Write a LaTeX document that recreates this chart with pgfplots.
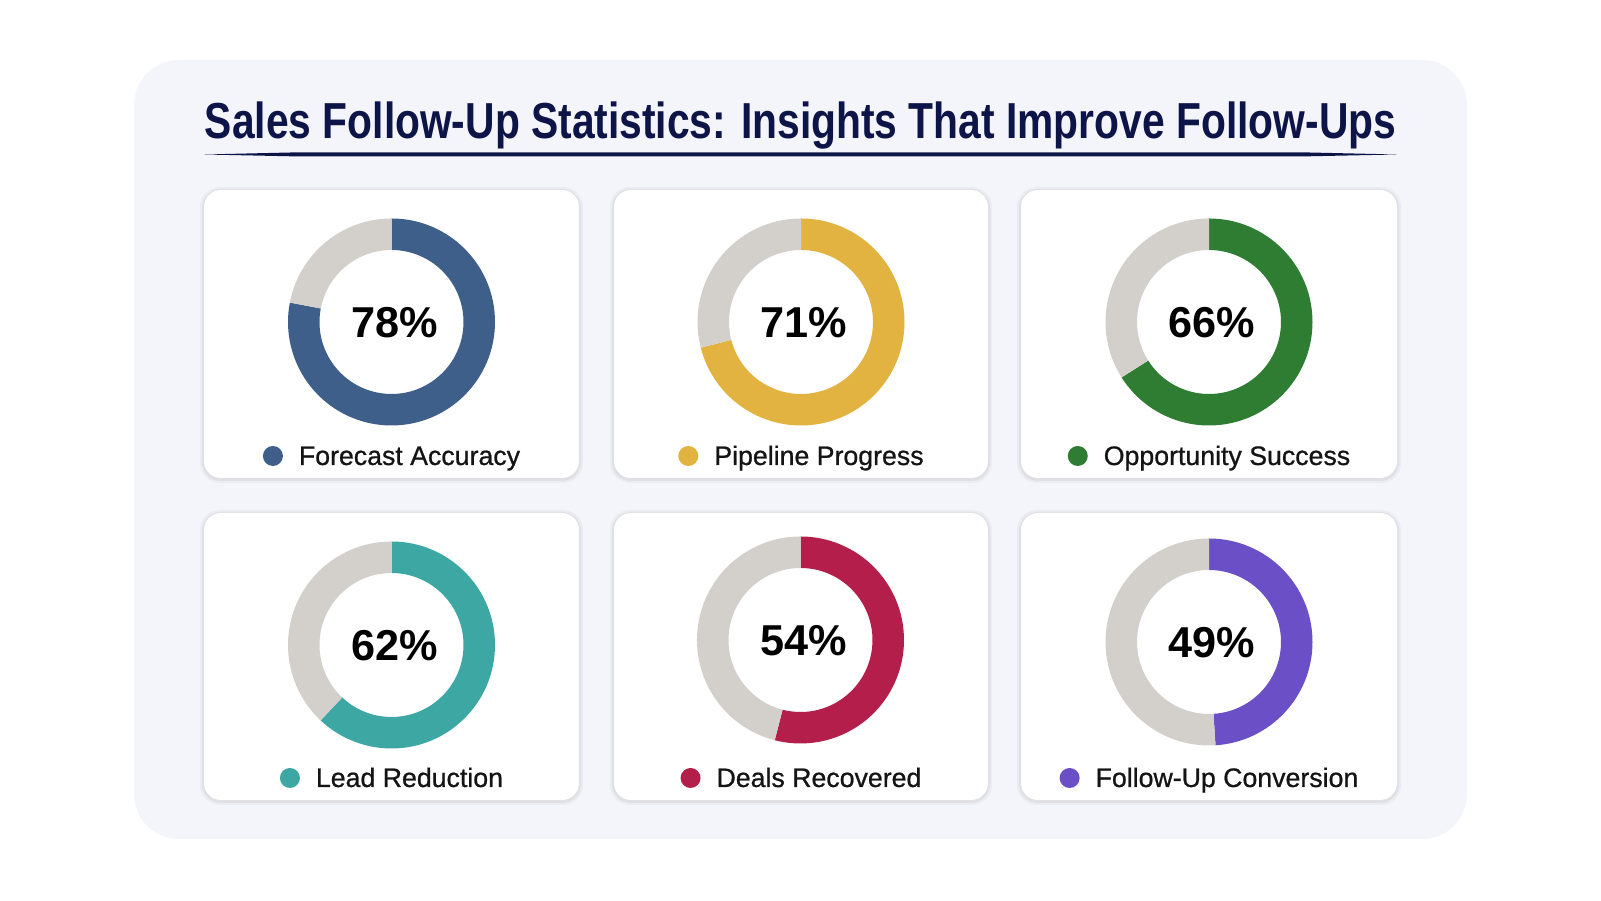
\documentclass[border=0pt]{standalone}
\usepackage{pgfplots}
\pgfplotsset{compat=1.18}
\usepackage{fontspec}
\setmainfont{Liberation Sans}
\newfontfamily\labelfont[FakeBold=0.8]{Liberation Sans}
\usepackage{graphicx}
\definecolor{bgpanel}{HTML}{F4F5FA}
\definecolor{titlenavy}{HTML}{0D1548}
\definecolor{donutgray}{HTML}{D3D0CB}
\definecolor{cblue}{HTML}{3E5F8A}
\definecolor{cgold}{HTML}{E2B340}
\definecolor{cgreen}{HTML}{2E7D32}
\definecolor{cteal}{HTML}{3CA7A3}
\definecolor{ccrimson}{HTML}{B31E4B}
\definecolor{cpurple}{HTML}{6A4FC6}
\pgfdeclareplotmark{donut}{%
  \pgfkeys{/pgf/fpu=false}%
  \pgfmathsetmacro\donutang{90-3.6*\pgfplotspointmeta}%
  \pgfpathmoveto{\pgfpointpolar{90}{1.035cm}}%
  \pgfpatharc{90}{\donutang}{1.035cm}%
  \pgfpathlineto{\pgfpointpolar{\donutang}{0.72cm}}%
  \pgfpatharc{\donutang}{90}{0.72cm}%
  \pgfpathclose
  \pgfusepath{fill}%
  \pgfsetfillcolor{donutgray}%
  \pgfpathmoveto{\pgfpointpolar{\donutang}{1.035cm}}%
  \pgfpatharc{\donutang}{-270}{1.035cm}%
  \pgfpathlineto{\pgfpointpolar{-270}{0.72cm}}%
  \pgfpatharc{-270}{\donutang}{0.72cm}%
  \pgfpathclose
  \pgfusepath{fill}%
}
\pgfplotsset{donut/.style={only marks, mark=donut, mark options={draw=none, fill=#1},
  point meta=explicit symbolic,
  nodes near coords={\pgfplotspointmeta\%},
  nodes near coords align={anchor=base},
  every node near coord/.append style={anchor=base, xshift=0.03cm, yshift=-0.16cm, text=black,
     font=\fontsize{12.3}{14}\selectfont\bfseries}}}
\newcommand\labeldot[1]{\tikz[baseline=0pt]\fill[#1] (0,0.09cm) circle[radius=0.1cm];\hspace{0.16cm}}
\newcommand\card[4]{%
  \fill[black, opacity=0.035, rounded corners=0.2cm] (axis cs:#1-4,#2-3) rectangle (axis cs:#3+4,#4+5);
  \fill[black, opacity=0.05, rounded corners=0.19cm] (axis cs:#1-2,#2-1) rectangle (axis cs:#3+2,#4+3);
  \fill[white, rounded corners=0.17cm] (axis cs:#1,#2) rectangle (axis cs:#3,#4);
}
\newcommand\cardlabel[3]{\node[anchor=base, text=black!92] at (axis cs:#1) {\labelfont\fontsize{7.6}{9}\selectfont\labeldot{#2}#3};}
\begin{document}
\begin{tikzpicture}
\begin{axis}[width=16.01cm,height=9.01cm,scale only axis,set layers,
  xmin=0,xmax=1601,ymin=0,ymax=901,y dir=reverse,hide axis,clip=false]
\begin{pgfonlayer}{axis background}
\fill[white] (axis cs:0,0) rectangle (axis cs:1601,901);
\fill[bgpanel, rounded corners=0.45cm] (axis cs:134,60) rectangle (axis cs:1467,839);
\card{204}{190}{579}{478}
\card{614}{190}{988}{478}
\card{1021}{190}{1397}{478}
\card{204}{513}{579}{800}
\card{614}{513}{988}{800}
\card{1021}{513}{1397}{800}
\end{pgfonlayer}
\node[anchor=base, text=titlenavy] at (axis cs:800.5,139) {\resizebox{11.91cm}{\height}{\fontsize{14.4}{16}\selectfont\bfseries Sales Follow-Up Statistics: Insights That Improve Follow-Ups}};
\fill[titlenavy] (axis cs:204,154.5) -- (axis cs:300,152.3) -- (axis cs:1300,152.3) -- (axis cs:1397,154.5) -- (axis cs:1300,156.5) -- (axis cs:300,156.5) -- cycle;

\addplot[donut=cblue] coordinates {(391.5,322) [78]};
\addplot[donut=cgold] coordinates {(801,322) [71]};
\addplot[donut=cgreen] coordinates {(1209,322) [66]};
\addplot[donut=cteal] coordinates {(391.5,645) [62]};
\addplot[donut=ccrimson] coordinates {(800.5,640) [54]};
\addplot[donut=cpurple] coordinates {(1209,642) [49]};

\cardlabel{391.5,465}{cblue}{Forecast Accuracy}
\cardlabel{801,465}{cgold}{Pipeline Progress}
\cardlabel{1209,465}{cgreen}{Opportunity Success}
\cardlabel{391.5,787}{cteal}{Lead Reduction}
\cardlabel{801,787}{ccrimson}{Deals Recovered}
\cardlabel{1209,787}{cpurple}{Follow-Up Conversion}
\end{axis}
\end{tikzpicture}
\end{document}
